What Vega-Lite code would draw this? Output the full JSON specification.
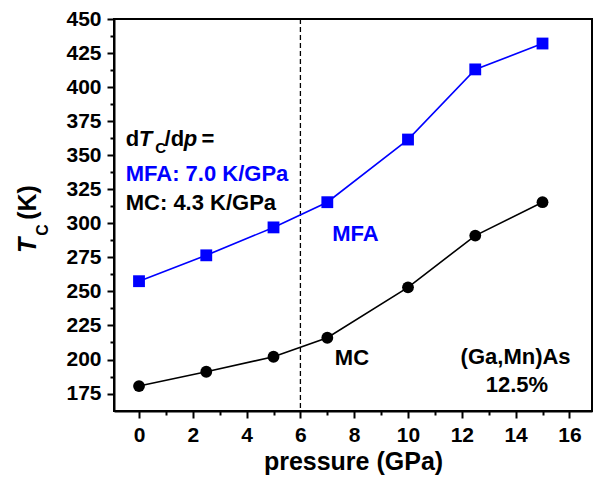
{
  "$schema": "https://vega.github.io/schema/vega-lite/v6.json",
  "width": 478,
  "height": 392,
  "autosize": {"type": "none"},
  "padding": {"left": 114, "top": 19, "right": 7, "bottom": 70},
  "background": "white",
  "config": {
    "view": {"stroke": "black", "strokeWidth": 2},
    "font": "Liberation Sans",
    "text": {"font": "Liberation Sans", "fontWeight": "bold", "fontSize": 22, "baseline": "alphabetic", "align": "left", "color": "black"},
    "axis": {
      "grid": false,
      "domainColor": "black",
      "domainWidth": 2,
      "tickColor": "black",
      "tickWidth": 2,
      "labelFont": "Liberation Sans",
      "labelFontWeight": "bold",
      "labelFontSize": 21,
      "labelColor": "black",
      "titleFont": "Liberation Sans",
      "titleFontWeight": "bold",
      "titleFontSize": 25,
      "titleColor": "black"
    }
  },
  "data": {
    "values": [
      {"pressure": 0, "Tc": 257.5, "method": "MFA"},
      {"pressure": 2.5, "Tc": 276.5, "method": "MFA"},
      {"pressure": 5, "Tc": 297, "method": "MFA"},
      {"pressure": 7, "Tc": 315.5, "method": "MFA"},
      {"pressure": 10, "Tc": 361.5, "method": "MFA"},
      {"pressure": 12.5, "Tc": 413, "method": "MFA"},
      {"pressure": 15, "Tc": 432, "method": "MFA"},
      {"pressure": 0, "Tc": 180.5, "method": "MC"},
      {"pressure": 2.5, "Tc": 191, "method": "MC"},
      {"pressure": 5, "Tc": 202, "method": "MC"},
      {"pressure": 7, "Tc": 216, "method": "MC"},
      {"pressure": 10, "Tc": 253, "method": "MC"},
      {"pressure": 12.5, "Tc": 291, "method": "MC"},
      {"pressure": 15, "Tc": 315.5, "method": "MC"}
    ]
  },
  "encoding": {
    "x": {
      "field": "pressure", "type": "quantitative",
      "scale": {"domain": [-0.93, 16.84], "nice": false, "zero": false},
      "axis": {
        "title": "pressure (GPa)",
        "values": [0,1,2,3,4,5,6,7,8,9,10,11,12,13,14,15,16],
        "labelExpr": "datum.value % 2 === 0 ? datum.label : ''",
        "tickSize": {"condition": {"test": "datum.value % 2 === 0", "value": 7}, "value": 4},
        "labelPadding": 6,
        "titlePadding": 4
      }
    },
    "y": {
      "field": "Tc", "type": "quantitative",
      "scale": {"domain": [162.2, 450], "nice": false, "zero": false},
      "axis": {
        "title": null,
        "values": [175,187.5,200,212.5,225,237.5,250,262.5,275,287.5,300,312.5,325,337.5,350,362.5,375,387.5,400,412.5,425,437.5,450],
        "labelExpr": "datum.value % 25 === 0 ? datum.label : ''",
        "tickSize": {"condition": {"test": "datum.value % 25 === 0", "value": 7}, "value": 4},
        "labelPadding": 6
      }
    }
  },
  "layer": [
    {
      "transform": [{"filter": "datum.pressure === 0 && datum.method === 'MFA'"}],
      "mark": {"type": "rule", "strokeDash": [5, 3], "strokeWidth": 1.3, "color": "black"},
      "encoding": {"x": {"datum": 6}, "y": null}
    },
    {
      "mark": {"type": "line", "strokeWidth": 1.6},
      "encoding": {
        "color": {"field": "method", "type": "nominal", "scale": {"domain": ["MFA", "MC"], "range": ["#0000ff", "#000000"]}, "legend": null}
      }
    },
    {
      "mark": {"type": "point", "filled": true, "opacity": 1, "size": 140},
      "encoding": {
        "color": {"field": "method", "type": "nominal", "scale": {"domain": ["MFA", "MC"], "range": ["#0000ff", "#000000"]}, "legend": null},
        "shape": {"field": "method", "type": "nominal", "scale": {"domain": ["MFA", "MC"], "range": ["square", "circle"]}, "legend": null}
      }
    },
    {"transform": [{"filter": "datum.pressure === 0 && datum.method === 'MFA'"}], "mark": {"type": "text", "text": "d"}, "encoding": {"x": {"datum": -0.494}, "y": {"datum": 356.5}}},
    {"transform": [{"filter": "datum.pressure === 0 && datum.method === 'MFA'"}], "mark": {"type": "text", "text": "T", "fontStyle": "italic"}, "encoding": {"x": {"datum": -0.011}, "y": {"datum": 356.5}}},
    {"transform": [{"filter": "datum.pressure === 0 && datum.method === 'MFA'"}], "mark": {"type": "text", "text": "C", "fontSize": 15}, "encoding": {"x": {"datum": 0.6}, "y": {"datum": 351.6}}},
    {"transform": [{"filter": "datum.pressure === 0 && datum.method === 'MFA'"}], "mark": {"type": "text", "text": "/d"}, "encoding": {"x": {"datum": 0.95}, "y": {"datum": 356.5}}},
    {"transform": [{"filter": "datum.pressure === 0 && datum.method === 'MFA'"}], "mark": {"type": "text", "text": "p", "fontStyle": "italic"}, "encoding": {"x": {"datum": 1.66}, "y": {"datum": 356.5}}},
    {"transform": [{"filter": "datum.pressure === 0 && datum.method === 'MFA'"}], "mark": {"type": "text", "text": "="}, "encoding": {"x": {"datum": 2.32}, "y": {"datum": 356.5}}},
    {"transform": [{"filter": "datum.pressure === 0 && datum.method === 'MFA'"}], "mark": {"type": "text", "text": "MFA: 7.0 K/GPa", "color": "#0000ff"}, "encoding": {"x": {"datum": -0.494}, "y": {"datum": 330.8}}},
    {"transform": [{"filter": "datum.pressure === 0 && datum.method === 'MFA'"}], "mark": {"type": "text", "text": "MC: 4.3 K/GPa"}, "encoding": {"x": {"datum": -0.494}, "y": {"datum": 310}}},
    {"transform": [{"filter": "datum.pressure === 0 && datum.method === 'MFA'"}], "mark": {"type": "text", "text": "MFA", "color": "#0000ff"}, "encoding": {"x": {"datum": 7.18}, "y": {"datum": 287.2}}},
    {"transform": [{"filter": "datum.pressure === 0 && datum.method === 'MFA'"}], "mark": {"type": "text", "text": "MC"}, "encoding": {"x": {"datum": 7.28}, "y": {"datum": 196.2}}},
    {"transform": [{"filter": "datum.pressure === 0 && datum.method === 'MFA'"}], "mark": {"type": "text", "text": "(Ga,Mn)As", "align": "center"}, "encoding": {"x": {"datum": 14.0}, "y": {"datum": 196.9}}},
    {"transform": [{"filter": "datum.pressure === 0 && datum.method === 'MFA'"}], "mark": {"type": "text", "text": "12.5%", "align": "center"}, "encoding": {"x": {"datum": 14.05}, "y": {"datum": 175.8}}},
    {"transform": [{"filter": "datum.pressure === 0 && datum.method === 'MFA'"}], "mark": {"type": "text", "text": "T", "fontStyle": "italic", "fontSize": 25, "angle": 270}, "encoding": {"x": {"datum": -3.83}, "y": {"datum": 278.2}}},
    {"transform": [{"filter": "datum.pressure === 0 && datum.method === 'MFA'"}], "mark": {"type": "text", "text": "C", "fontSize": 16, "angle": 270}, "encoding": {"x": {"datum": -3.4}, "y": {"datum": 290.9}}},
    {"transform": [{"filter": "datum.pressure === 0 && datum.method === 'MFA'"}], "mark": {"type": "text", "text": "(K)", "fontSize": 25, "angle": 270}, "encoding": {"x": {"datum": -3.83}, "y": {"datum": 302.6}}}
  ]
}
